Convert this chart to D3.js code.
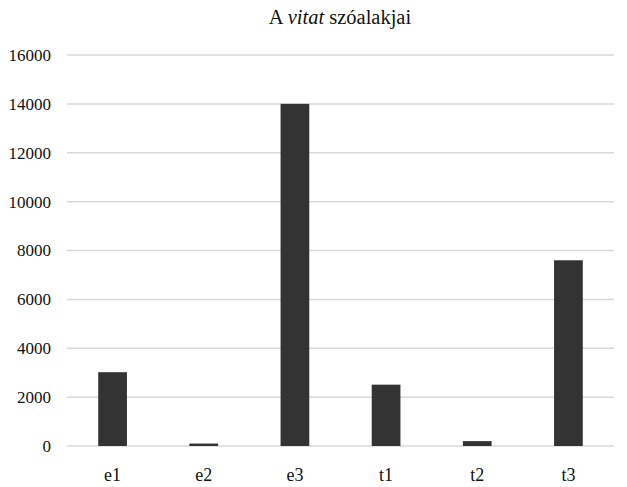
<!DOCTYPE html>
<html>
<head>
<meta charset="utf-8">
<script src="https://cdn.jsdelivr.net/npm/d3@7"></script>
<style>
  html, body { margin: 0; padding: 0; background: #fff; }
  svg { display: block; }
</style>
</head>
<body>
<div id="chart"></div>
<script>
// Word-form frequencies of "vitat"
const categories = ["e1", "e2", "e3", "t1", "t2", "t3"];
const values = [3020, 100, 14000, 2510, 200, 7600];
const yTicks = [0, 2000, 4000, 6000, 8000, 10000, 12000, 14000, 16000];

const W = 627, H = 487;
const margin = { top: 55, right: 13, bottom: 41, left: 67 };
const serif = "Liberation Serif";

const svg = d3.select("#chart").append("svg")
  .attr("width", W).attr("height", H)
  .attr("font-family", serif);

const x = d3.scaleBand()
  .domain(categories)
  .range([margin.left, W - margin.right])
  .paddingInner(0.685)
  .paddingOuter(0.3425);

const y = d3.scaleLinear()
  .domain([0, 16000])
  .range([H - margin.bottom, margin.top]);

// horizontal gridlines
svg.append("g")
  .selectAll("line")
  .data(yTicks)
  .join("line")
  .attr("x1", margin.left)
  .attr("x2", W - margin.right)
  .attr("y1", d => y(d))
  .attr("y2", d => y(d))
  .attr("stroke", "#d9d9d9")
  .attr("stroke-width", 1.5);

// y axis labels
const yAxis = d3.axisLeft(y).tickValues(yTicks).tickSize(0).tickPadding(16)
  .tickFormat(d3.format("d"));
svg.append("g")
  .attr("transform", `translate(${margin.left},0)`)
  .call(yAxis)
  .call(g => g.select(".domain").remove())
  .call(g => g.attr("font-family", serif).attr("font-size", 17))
  .call(g => g.selectAll("text").attr("fill", "#111"));

// bars
svg.append("g")
  .selectAll("rect")
  .data(values)
  .join("rect")
  .attr("x", (d, i) => x(categories[i]))
  .attr("width", x.bandwidth())
  .attr("y", d => y(d))
  .attr("height", d => y(0) - y(d))
  .attr("fill", "#333333");

// x axis labels
const xAxis = d3.axisBottom(x).tickSize(0).tickPadding(22);
svg.append("g")
  .attr("transform", `translate(0,${y(0)})`)
  .call(xAxis)
  .call(g => g.select(".domain").remove())
  .call(g => g.attr("font-family", serif).attr("font-size", 18))
  .call(g => g.selectAll("text").attr("fill", "#111"));

// title with italic word
const title = svg.append("text")
  .attr("x", 340)
  .attr("y", 24)
  .attr("text-anchor", "middle")
  .attr("font-family", serif)
  .attr("font-size", 20.5)
  .attr("fill", "#111");
title.append("tspan").text("A ");
title.append("tspan").attr("font-style", "italic").text("vitat");
title.append("tspan").text(" szóalakjai");
</script>
</body>
</html>
